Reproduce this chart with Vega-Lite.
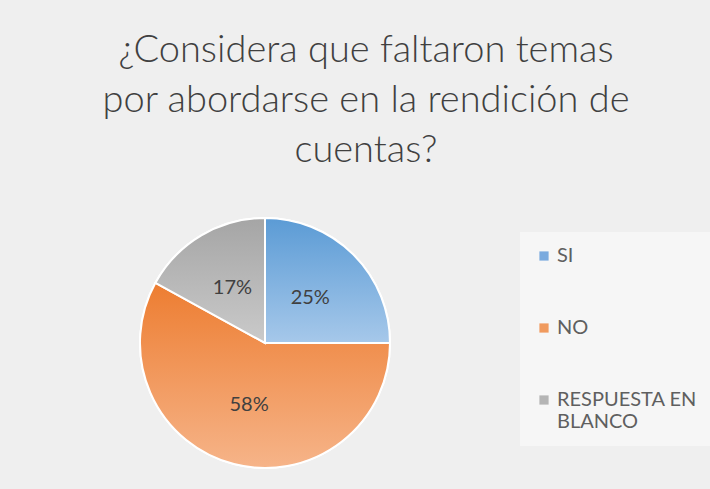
{
  "$schema": "https://vega.github.io/schema/vega-lite/v6.json",
  "autosize": {"type": "none"},
  "width": 250,
  "height": 250,
  "padding": {"left": 140, "top": 218, "right": 320, "bottom": 21},
  "background": "#efefef",
  "title": {
    "text": ["¿Considera que faltaron temas", "por abordarse en la rendición de", "cuentas?"],
    "anchor": "middle",
    "frame": "group",
    "dx": 101,
    "offset": 44,
    "font": "Lato",
    "fontWeight": 300,
    "fontSize": 38,
    "lineHeight": 50,
    "color": "#404040"
  },
  "data": {
    "values": [
      {"respuesta": "SI", "pct": 0.25, "orden": 1},
      {"respuesta": "NO", "pct": 0.58, "orden": 2},
      {"respuesta": "RESPUESTA EN BLANCO", "pct": 0.17, "orden": 3}
    ]
  },
  "encoding": {
    "theta": {"field": "pct", "type": "quantitative", "stack": true},
    "order": {"field": "orden", "type": "quantitative"}
  },
  "layer": [
    {
      "mark": {"type": "arc", "outerRadius": 125, "stroke": "white", "strokeWidth": 2},
      "encoding": {
        "color": {
          "field": "respuesta",
          "type": "nominal",
          "scale": {"domain": ["SI", "NO", "RESPUESTA EN BLANCO"], "range": ["#7aaade", "#f09a5e", "#b4b4b4"]},
          "legend": {
            "title": null,
            "orient": "none",
            "legendX": 380,
            "legendY": 14,
            "padding": 14,
            "fillColor": "#f6f6f6",
            "symbolType": "square",
            "symbolSize": 85,
            "symbolStrokeWidth": 0,
            "labelFont": "Lato",
            "labelFontSize": 20,
            "labelColor": "#5f5f5f",
            "labelOffset": 3,
            "rowPadding": 52,
            "labelExpr": "datum.label == 'RESPUESTA EN BLANCO' ? ['RESPUESTA EN', 'BLANCO'] : datum.label",
            "encode": {"labels": {"update": {"lineHeight": {"value": 31}}}}
          }
        }
      }
    },
    {
      "mark": {"type": "arc", "outerRadius": 125, "stroke": "white", "strokeWidth": 2},
      "encoding": {
        "color": {
          "condition": [
            {"test": "datum.respuesta == 'SI'", "value": {"gradient": "linear", "x1": 0, "y1": 0, "x2": 0, "y2": 1, "stops": [{"offset": 0, "color": "#5b9bd5"}, {"offset": 1, "color": "#a6c8ea"}]}},
            {"test": "datum.respuesta == 'NO'", "value": {"gradient": "linear", "x1": 0, "y1": 0, "x2": 0, "y2": 1, "stops": [{"offset": 0, "color": "#ed7d31"}, {"offset": 1, "color": "#f6b489"}]}}
          ],
          "value": {"gradient": "linear", "x1": 0, "y1": 0, "x2": 0, "y2": 1, "stops": [{"offset": 0, "color": "#a5a5a5"}, {"offset": 1, "color": "#cacaca"}]}
        }
      }
    },
    {
      "mark": {"type": "text", "radius": 64, "font": "Lato", "fontSize": 20, "color": "#404040"},
      "encoding": {
        "text": {"field": "pct", "type": "quantitative", "format": ".0%"},
        "detail": {"field": "respuesta"}
      }
    }
  ]
}
